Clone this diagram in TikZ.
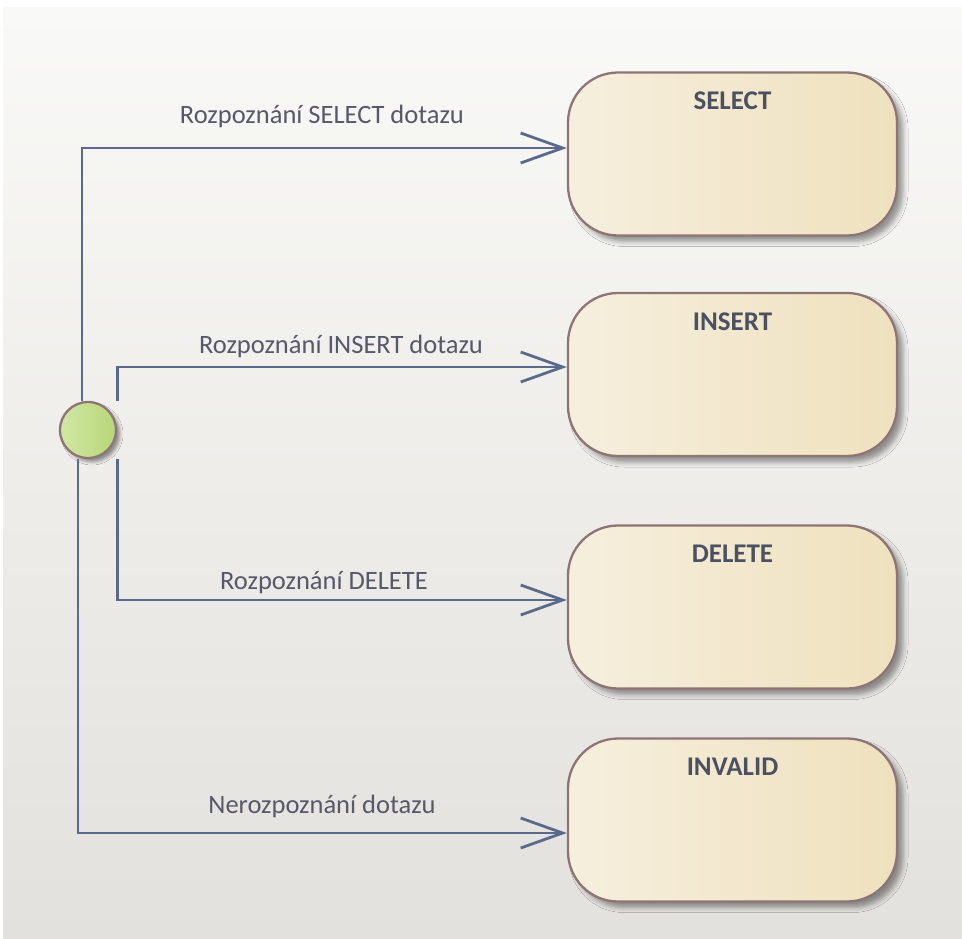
\documentclass[tikz,border=0pt]{standalone}
\usepackage{fontspec}
\setmainfont{Carlito}
\usetikzlibrary{arrows.meta,shadows.blur}
\definecolor{panelTop}{HTML}{F9F9F7}
\definecolor{panelBot}{HTML}{E3E1DD}
\definecolor{stavL}{HTML}{F6EFDE}
\definecolor{stavR}{HTML}{EFE1BE}
\definecolor{okraj}{HTML}{8E7575}
\definecolor{zelenaL}{HTML}{D2E7A4}
\definecolor{zelenaR}{HTML}{B7D678}
\definecolor{cara}{HTML}{5B6A8B}
\definecolor{nazev}{HTML}{4B5161}
\definecolor{popisek}{HTML}{575869}
\begin{document}
\begin{tikzpicture}[x=1pt,y=-1pt,
	stav/.style={rectangle,rounded corners=50pt,draw=okraj,line width=2.3pt,
		left color=stavL,right color=stavR,minimum width=329pt,inner ysep=0pt,
		text height=37pt,text depth=126pt,text=nazev,
		font=\fontsize{27}{30}\selectfont\bfseries,
		blur shadow={shadow xshift=6pt,shadow yshift=-6pt,shadow blur radius=5pt,shadow opacity=40}},
	pocatek/.style={circle,minimum size=56pt,inner sep=0pt,draw=okraj,line width=2.3pt,
		left color=zelenaL,right color=zelenaR,
		blur shadow={shadow xshift=4pt,shadow yshift=-4pt,shadow blur radius=3pt,shadow opacity=40}},
	prechod/.style={draw=cara,line width=2.8pt,-{Straight Barb[length=42pt,width=30pt]}},
	popis/.style={anchor=base,text=popisek,font=\fontsize{26.5}{30}\selectfont}]
	\useasboundingbox (0,0) rectangle (962,938);
	\fill[white] (0,0) rectangle (962,938);
	\shade[top color=panelTop,bottom color=panelBot] (3,7) rectangle (962,938);

	\node[pocatek] (init) at (88,430) {};
	\node[stav] (select) at (732.5,154) {SELECT};
	\node[stav] (insert) at (732.5,374.5) {INSERT};
	\node[stav] (delete) at (732.5,607) {DELETE};
	\node[stav] (invalid) at (732.5,820) {INVALID};

	\draw[prechod] ([xshift=-6pt]init.north) |- ([yshift=6pt]select.west);
	\draw[prechod] (init.north -| init.east) |- ([yshift=7.5pt]insert.west);
	\draw[prechod] (init.south -| init.east) |- ([yshift=7pt]delete.west);
	\draw[prechod] ([xshift=-10pt]init.south) |- ([yshift=-13pt]invalid.west);

	\node[popis] (lselect) at (322,123) {Rozpoznání SELECT dotazu};
	\node[popis] (linsert) at (341,353) {Rozpoznání INSERT dotazu};
	\node[popis] (ldelete) at (324,589) {Rozpoznání DELETE};
	\node[popis] (linvalid) at (322,813) {Nerozpoznání dotazu};
\end{tikzpicture}
\end{document}
